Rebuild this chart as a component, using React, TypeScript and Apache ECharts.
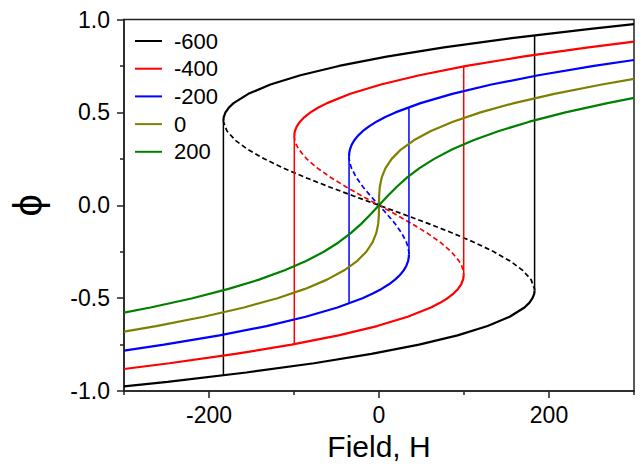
import React, { useEffect, useRef } from "react";
import * as echarts from "echarts";

// Field H vs order parameter phi.
// Each point is [H, phi].

// J = -600
const upperN600 = [[-183.05,0.4576],[-182.65,0.475],[-180.62,0.5],[-176.81,0.525],[-171.11,0.55],[-153.72,0.6],[-127.73,0.65],[-92.43,0.7],[-47.11,0.75],[8.96,0.8],[76.49,0.85],[156.2,0.9],[248.79,0.95],[300,0.975]];
const lowerN600 = [[-300,-0.975],[-248.79,-0.95],[-156.2,-0.9],[-76.49,-0.85],[-8.96,-0.8],[47.11,-0.75],[92.43,-0.7],[127.73,-0.65],[153.72,-0.6],[171.11,-0.55],[176.81,-0.525],[180.62,-0.5],[182.65,-0.475],[183.05,-0.4576]];
const unstableN600 = [[-183.05,0.4576],[-182.98,0.45],[-178.88,0.4],[-169.05,0.35],[-154.21,0.3],[-135.08,0.25],[-112.36,0.2],[-86.78,0.15],[-59.05,0.1],[-29.88,0.05],[0,0],[29.88,-0.05],[59.05,-0.1],[86.78,-0.15],[112.36,-0.2],[135.08,-0.25],[154.21,-0.3],[169.05,-0.35],[178.88,-0.4],[182.98,-0.45],[183.05,-0.4576]];
const jumpDownN600 = [[-183.05,0.4576],[-183.05,-0.9153]];
const jumpUpN600 = [[183.05,-0.4576],[183.05,0.9153]];

// J = -400
const upperN400 = [[-99.64,0.3737],[-99.35,0.39],[-98.88,0.4],[-96.69,0.425],[-92.98,0.45],[-87.65,0.475],[-80.62,0.5],[-71.81,0.525],[-61.11,0.55],[-33.72,0.6],[2.27,0.65],[47.57,0.7],[102.89,0.75],[168.96,0.8],[246.49,0.85],[300,0.881]];
const lowerN400 = [[-300,-0.881],[-246.49,-0.85],[-168.96,-0.8],[-102.89,-0.75],[-47.57,-0.7],[-2.27,-0.65],[33.72,-0.6],[61.11,-0.55],[71.81,-0.525],[80.62,-0.5],[87.65,-0.475],[92.98,-0.45],[96.69,-0.425],[98.88,-0.4],[99.35,-0.39],[99.64,-0.3737]];
const unstableN400 = [[-99.64,0.3737],[-99.05,0.35],[-97.22,0.325],[-94.21,0.3],[-85.08,0.25],[-72.36,0.2],[-56.78,0.15],[-39.05,0.1],[-19.88,0.05],[0,0],[19.88,-0.05],[39.05,-0.1],[56.78,-0.15],[72.36,-0.2],[85.08,-0.25],[94.21,-0.3],[97.22,-0.325],[99.05,-0.35],[99.64,-0.3737]];
const jumpDownN400 = [[-99.64,0.3737],[-99.64,-0.7473]];
const jumpUpN400 = [[99.64,-0.3737],[99.64,0.7473]];

// J = -200
const upperN200 = [[-35.23,0.2642],[-35.04,0.28],[-34.21,0.3],[-32.22,0.325],[-29.05,0.35],[-24.64,0.375],[-18.88,0.4],[-11.69,0.425],[-2.98,0.45],[7.35,0.475],[19.38,0.5],[48.89,0.55],[86.28,0.6],[132.27,0.65],[187.57,0.7],[252.89,0.75],[300,0.782]];
const lowerN200 = [[-300,-0.782],[-252.89,-0.75],[-187.57,-0.7],[-132.27,-0.65],[-86.28,-0.6],[-48.89,-0.55],[-19.38,-0.5],[-7.35,-0.475],[2.98,-0.45],[11.69,-0.425],[18.88,-0.4],[24.64,-0.375],[29.05,-0.35],[32.22,-0.325],[34.21,-0.3],[35.04,-0.28],[35.23,-0.2642]];
const unstableN200 = [[-35.23,0.2642],[-35.08,0.25],[-34.12,0.225],[-32.36,0.2],[-26.78,0.15],[-19.05,0.1],[-9.88,0.05],[0,0],[9.88,-0.05],[19.05,-0.1],[26.78,-0.15],[32.36,-0.2],[34.12,-0.225],[35.08,-0.25],[35.23,-0.2642]];
const jumpDownN200 = [[-35.23,0.2642],[-35.23,-0.5284]];
const jumpUpN200 = [[35.23,-0.2642],[35.23,0.5284]];

// J = 0
const curve0 = [[-300,-0.68],[-262.27,-0.65],[-206.28,-0.6],[-158.89,-0.55],[-119.38,-0.5],[-87.02,-0.45],[-61.12,-0.4],[-40.95,-0.35],[-25.79,-0.3],[-14.92,-0.25],[-7.64,-0.2],[-3.22,-0.15],[-0.96,-0.1],[-0.12,-0.05],[0,0],[0.12,0.05],[0.96,0.1],[3.22,0.15],[7.64,0.2],[14.92,0.25],[25.79,0.3],[40.95,0.35],[61.12,0.4],[87.02,0.45],[119.38,0.5],[158.89,0.55],[206.28,0.6],[262.27,0.65],[300,0.68]];

// J = 200
const curve200 = [[-300,-0.578],[-268.89,-0.55],[-219.38,-0.5],[-177.02,-0.45],[-141.12,-0.4],[-110.95,-0.35],[-85.79,-0.3],[-64.92,-0.25],[-47.64,-0.2],[-33.22,-0.15],[-20.96,-0.1],[-10.12,-0.05],[0,0],[10.12,0.05],[20.96,0.1],[33.22,0.15],[47.64,0.2],[64.92,0.25],[85.79,0.3],[110.95,0.35],[141.12,0.4],[177.02,0.45],[219.38,0.5],[268.89,0.55],[300,0.578]];

const legendNames = ["-600", "-400", "-200", "0", "200"];
const xMajorTicks = [-200, 0, 200];
const xMinorTicks = [-300, -100, 100, 300];

const FONT = "'Liberation Sans', Arial, sans-serif";

type Pt = number[];

function mk(name: string, color: string, data: Pt[], kind: "solid" | "jump" | "dash") {
  return {
    type: "line",
    name,
    color,
    data,
    symbol: "none",
    showSymbol: false,
    silent: true,
    clip: true,
    lineStyle: {
      color,
      width: kind === "solid" ? 2.2 : kind === "jump" ? 1.5 : 1.7,
      type: kind === "dash" ? [5, 3] : "solid",
    },
  };
}

export default function App() {
  const ref = useRef<HTMLDivElement>(null);
  useEffect(() => {
    if (!ref.current) return;
    const chart = echarts.init(ref.current, undefined, { renderer: "svg" });
    const black = "#000000";
    const red = "#ff0000";
    const blue = "#0000ff";
    const olive = "#808000";
    const green = "#008000";
    const series = [
      mk("-600", black, upperN600, "solid"),
      mk("-600", black, lowerN600, "solid"),
      mk("-600", black, jumpDownN600, "jump"),
      mk("-600", black, jumpUpN600, "jump"),
      mk("-600", black, unstableN600, "dash"),
      mk("-400", red, upperN400, "solid"),
      mk("-400", red, lowerN400, "solid"),
      mk("-400", red, jumpDownN400, "jump"),
      mk("-400", red, jumpUpN400, "jump"),
      mk("-400", red, unstableN400, "dash"),
      mk("-200", blue, upperN200, "solid"),
      mk("-200", blue, lowerN200, "solid"),
      mk("-200", blue, jumpDownN200, "jump"),
      mk("-200", blue, jumpUpN200, "jump"),
      mk("-200", blue, unstableN200, "dash"),
      mk("0", olive, curve0, "solid"),
      mk("200", green, curve200, "solid"),
    ];
    chart.setOption({
      animation: false,
      backgroundColor: "#ffffff",
      textStyle: { fontFamily: FONT, color: "#000" },
      grid: {
        left: 124,
        right: 7,
        top: 19.5,
        bottom: 73.5,
        show: true,
        borderColor: "#222",
        borderWidth: 1.5,
        containLabel: false,
      },
      legend: {
        data: legendNames,
        orient: "vertical",
        left: 130,
        top: 25,
        icon: "rect",
        itemWidth: 27,
        itemHeight: 2,
        itemGap: 5.7,
        selectedMode: false,
        textStyle: {
          fontFamily: FONT,
          fontSize: 22,
          lineHeight: 22,
          color: "#000",
          padding: [0, 0, 0, 7],
        },
      },
      xAxis: [
        {
          type: "value",
          min: -300,
          max: 300,
          interval: 100,
          position: "bottom",
          axisLine: { show: true, onZero: false, lineStyle: { color: "#222", width: 1.5 } },
          axisTick: { show: true, customValues: xMajorTicks, length: 7, lineStyle: { color: "#222", width: 1.5 } },
          axisLabel: {
            customValues: xMajorTicks,
            fontFamily: FONT,
            fontSize: 23,
            color: "#000",
            margin: 12,
          },
          splitLine: { show: false },
          name: "Field, H",
          nameLocation: "middle",
          nameGap: 38,
          nameTextStyle: { fontFamily: FONT, fontSize: 30, color: "#000" },
        },
        {
          type: "value",
          min: -300,
          max: 300,
          interval: 100,
          position: "bottom",
          offset: 0,
          axisLine: { show: false, onZero: false },
          axisTick: { show: true, customValues: xMinorTicks, length: 4, lineStyle: { color: "#222", width: 1.5 } },
          axisLabel: { show: false },
          splitLine: { show: false },
        },
      ],
      yAxis: {
        type: "value",
        min: -1,
        max: 1,
        interval: 0.5,
        axisLine: { show: true, onZero: false, lineStyle: { color: "#222", width: 1.5 } },
        axisTick: { show: true, length: 7, lineStyle: { color: "#222", width: 1.5 } },
        minorTick: { show: true, splitNumber: 2, length: 4, lineStyle: { color: "#222", width: 1.5 } },
        minorSplitLine: { show: false },
        splitLine: { show: false },
        axisLabel: {
          fontFamily: FONT,
          fontSize: 23,
          color: "#000",
          margin: 14,
          formatter: (v: number) => v.toFixed(1),
        },
        name: "ϕ",
        nameLocation: "middle",
        nameRotate: 90,
        nameGap: 76,
        nameTextStyle: { fontFamily: FONT, fontSize: 40, color: "#000" },
      },
      series,
    });
    return () => chart.dispose();
  }, []);
  return (
    <div
      ref={ref}
      style={{ position: "fixed", left: 0, top: 0, width: 641, height: 466 }}
    />
  );
}
